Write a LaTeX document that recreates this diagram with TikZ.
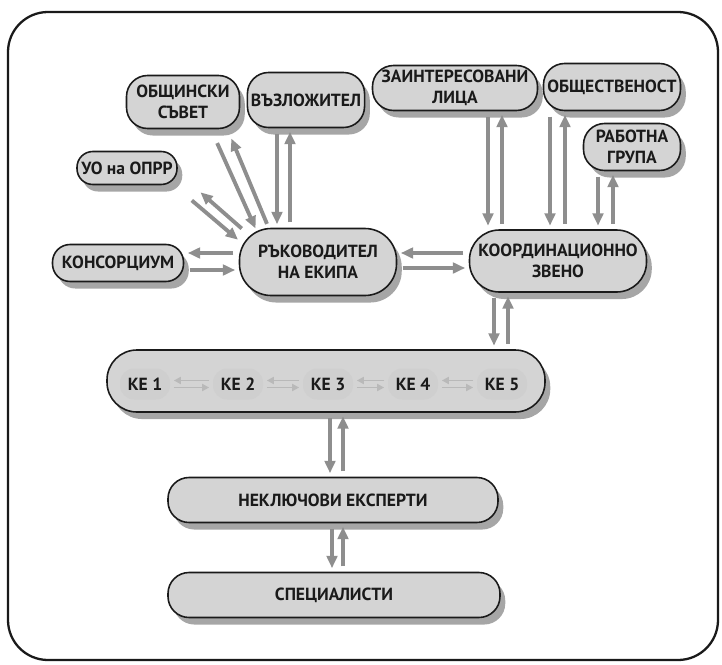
\documentclass[tikz,border=0pt]{standalone}
\usepackage{fontspec}
\setmainfont{PT Sans}
\usetikzlibrary{arrows.meta,positioning,calc,shadows}
\definecolor{ink}{HTML}{1A1A1A}
\definecolor{pillfill}{HTML}{D4D4D4}
\definecolor{arrowgray}{HTML}{8E8E8E}
\tikzset{
  pill/.style={rectangle,rounded corners=12pt,draw=ink,fill=pillfill,
    text=ink,inner sep=2pt,font=\bfseries,align=center,line width=0.9pt,
    drop shadow={shadow xshift=3pt,shadow yshift=-4pt,fill=black,opacity=0.35}},
  kebox/.style={rectangle,rounded corners=8pt,fill=gray!38,text=ink,
    inner sep=3pt,font=\bfseries,minimum height=0.62cm,minimum width=1.0cm},
  flow/.style={-{Triangle[length=7pt,width=6pt]},line width=2.2pt,color=arrowgray,
    shorten <=3pt,shorten >=2pt},
  keflow/.style={-{Triangle[length=4pt,width=4pt]},line width=1.1pt,color=gray!55,
    shorten <=2pt,shorten >=2pt},
  frame/.style={draw=ink,line width=1.3pt,rounded corners=0.8cm},
}
\begin{document}
\begin{tikzpicture}
  \useasboundingbox (0,0) rectangle (14.44,-13.28);
  \draw[frame] (0.16,-0.24) rectangle (14.36,-13.2);

  \node[pill,minimum width=2.26cm,minimum height=1.06cm] (obsh) at (3.66,-2.04) {ОБЩИНСКИ\\СЪВЕТ};
  \node[pill,minimum width=2.34cm,minimum height=1.1cm] (vazl) at (6.12,-2.0) {ВЪЗЛОЖИТЕЛ};
  \node[pill,minimum width=3.3cm,minimum height=0.9cm] (zain) at (9.10,-1.76) {ЗАИНТЕРЕСОВАНИ\\ЛИЦА};
  \node[pill,minimum width=2.74cm,minimum height=0.94cm] (obshtv) at (12.24,-1.74) {ОБЩЕСТВЕНОСТ};
  \node[pill,minimum width=1.94cm,minimum height=0.94cm] (rab) at (12.64,-2.94) {РАБОТНА\\ГРУПА};
  \node[pill,rounded corners=9pt,minimum width=2.0cm,minimum height=0.66cm] (uo) at (2.54,-3.36) {УО на ОПРР};
  \node[pill,rounded corners=10pt,minimum width=2.62cm,minimum height=0.74cm] (kons) at (2.36,-5.26) {КОНСОРЦИУМ};
  \node[pill,rounded corners=18pt,minimum width=3.14cm,minimum height=1.34cm] (ruk) at (6.36,-5.24) {РЪКОВОДИТЕЛ\\НА ЕКИПА};
  \node[pill,rounded corners=17pt,minimum width=3.54cm,minimum height=1.24cm] (koord) at (11.16,-5.22) {КООРДИНАЦИОННО\\ЗВЕНО};
  \node[pill,rounded corners=17pt,minimum width=8.76cm,minimum height=1.24cm] (kerow) at (6.52,-7.62) {};
  \node[pill,minimum width=6.6cm,minimum height=0.9cm] (nekl) at (6.66,-10.0) {НЕКЛЮЧОВИ ЕКСПЕРТИ};
  \node[pill,minimum width=6.64cm,minimum height=0.9cm] (spec) at (6.68,-11.9) {СПЕЦИАЛИСТИ};

  \node[kebox] (ke1) at (2.90,-7.68) {КЕ 1};
  \node[kebox] (ke2) at (4.76,-7.68) {КЕ 2};
  \node[kebox] (ke3) at (6.56,-7.68) {КЕ 3};
  \node[kebox] (ke4) at (8.26,-7.68) {КЕ 4};
  \node[kebox] (ke5) at (10.04,-7.68) {КЕ 5};
  \draw[keflow] ([yshift=2pt]ke2.west) -- ([yshift=2pt]ke1.east);
  \draw[keflow] ([yshift=-2pt]ke1.east) -- ([yshift=-2pt]ke2.west);
  \draw[keflow] ([yshift=2pt]ke3.west) -- ([yshift=2pt]ke2.east);
  \draw[keflow] ([yshift=-2pt]ke2.east) -- ([yshift=-2pt]ke3.west);
  \draw[keflow] ([yshift=2pt]ke4.west) -- ([yshift=2pt]ke3.east);
  \draw[keflow] ([yshift=-2pt]ke3.east) -- ([yshift=-2pt]ke4.west);
  \draw[keflow] ([yshift=2pt]ke5.west) -- ([yshift=2pt]ke4.east);
  \draw[keflow] ([yshift=-2pt]ke4.east) -- ([yshift=-2pt]ke5.west);

  \draw[flow] ($(obsh.south)+(0.64,-0.18)$) -- ($(ruk.north)+(-1.22,-0.08)$);
  \draw[flow] ($(ruk.north)+(-0.98,-0.02)$) -- ($(obsh.south)+(0.94,-0.12)$);
  \draw[flow] ($(ruk.west)+(0.14,0.60)$) -- ($(uo.east)+(0.40,-0.44)$);
  \draw[flow] ($(uo.east)+(0.20,-0.58)$) -- ($(ruk.west)+(0.04,0.40)$);
  \draw[flow] ([xshift=-0.58cm]vazl.south) -- ([xshift=-0.58cm]vazl.south |- ruk.north);
  \draw[flow] ([xshift=-0.32cm]vazl.south |- ruk.north) -- ([xshift=-0.32cm]vazl.south);
  \draw[flow] ([yshift=0.18cm]ruk.west) -- ([yshift=0.18cm]ruk.west -| kons.east);
  \draw[flow] ([yshift=-0.16cm]ruk.west -| kons.east) -- ([yshift=-0.16cm]ruk.west);
  \draw[flow] ([yshift=0.18cm]ruk.east -| koord.west) -- ([yshift=0.18cm]ruk.east);
  \draw[flow] ([yshift=-0.12cm]ruk.east) -- ([yshift=-0.12cm]ruk.east -| koord.west);
  \draw[flow] ([xshift=0.66cm]zain.south) -- ([xshift=0.66cm]zain.south |- koord.north);
  \draw[flow] ([xshift=0.94cm]zain.south |- koord.north) -- ([xshift=0.94cm]zain.south);
  \draw[flow] ([xshift=-1.24cm]obshtv.south) -- ([xshift=-1.24cm]obshtv.south |- koord.north);
  \draw[flow] ([xshift=-0.94cm]obshtv.south |- koord.north) -- ([xshift=-0.94cm]obshtv.south);
  \draw[flow] ([xshift=-0.68cm]rab.south) -- ([xshift=-0.68cm]rab.south |- koord.north);
  \draw[flow] ([xshift=-0.38cm]rab.south |- koord.north) -- ([xshift=-0.38cm]rab.south);
  \draw[flow] ([xshift=-1.28cm]koord.south) -- ([xshift=-1.28cm]koord.south |- kerow.north);
  \draw[flow] ([xshift=-1.0cm]koord.south |- kerow.north) -- ([xshift=-1.0cm]koord.south);
  \draw[flow] ([xshift=0.08cm]kerow.south) -- ([xshift=0.08cm]kerow.south |- nekl.north);
  \draw[flow] ([xshift=0.34cm]kerow.south |- nekl.north) -- ([xshift=0.34cm]kerow.south);
  \draw[flow] ([xshift=-0.02cm]nekl.south) -- ([xshift=-0.02cm]nekl.south |- spec.north);
  \draw[flow] ([xshift=0.20cm]nekl.south |- spec.north) -- ([xshift=0.20cm]nekl.south);
\end{tikzpicture}
\end{document}
